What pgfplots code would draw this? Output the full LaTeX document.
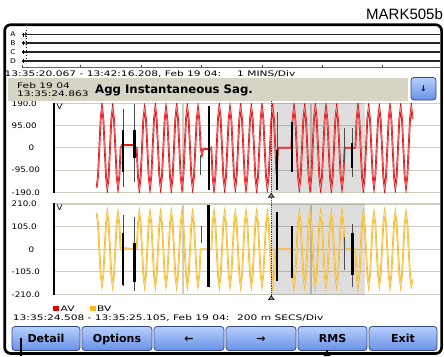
\documentclass[border=0pt]{standalone}
\usepackage{fontspec}
\setmainfont{DejaVu Sans}
\newfontfamily\pxw[FakeStretch=1.4]{DejaVu Sans}
\newfontfamily\pxn[FakeStretch=1.15]{DejaVu Sans}
\newfontfamily\arialf{Liberation Sans}
\usepackage{pgfplots}
\usepackage{pgfplotstable}
\pgfplotsset{compat=1.18}

\definecolor{wavea}{RGB}{226,0,0}
\definecolor{waveacore}{RGB}{255,150,150}
\definecolor{waveb}{RGB}{250,180,30}
\definecolor{wavebcore}{RGB}{255,226,150}
\definecolor{gridc}{RGB}{206,206,192}
\definecolor{barc}{RGB}{214,212,196}
\definecolor{btntop}{RGB}{182,208,252}
\definecolor{btnbot}{RGB}{104,144,232}
\definecolor{btnedge}{RGB}{52,72,130}

\newcommand{\pxs}{\pxw\fontsize{7.6}{9}\selectfont}
\newcommand{\pxt}{\pxn\fontsize{7.6}{9}\selectfont}
\newcommand{\btnf}{\fontsize{11}{11}\selectfont\bfseries}

% AV samples (8 per 60 Hz cycle), V
\pgfplotstableread[row sep=\\]{
n v\\
32 -170\\33 -121\\34 0\\35 122\\36 176\\37 124\\38 0\\39 -122\\40 -174\\41 -123\\
42 0\\43 121\\44 170\\45 120\\46 0\\47 -120\\48 -172\\49 -122\\50 0\\51 12\\
60 12\\61 2\\62 0\\63 -124\\64 -176\\65 -124\\66 0\\67 120\\68 168\\69 120\\
70 0\\71 -122\\72 -172\\73 -121\\74 0\\75 123\\76 174\\77 123\\78 0\\79 -120\\
80 -170\\81 -120\\82 0\\83 120\\84 170\\85 121\\86 0\\87 -124\\88 -176\\89 -124\\
90 0\\91 124\\92 176\\93 123\\94 0\\95 -122\\96 -172\\97 -122\\98 0\\99 122\\
100 172\\101 121\\102 0\\103 -121\\104 -170\\105 -121\\106 0\\107 119\\108 168\\109 119\\
110 0\\111 -30\\112 -5\\117 -5\\118 0\\119 -124\\120 -176\\121 -124\\122 0\\123 124\\
124 176\\125 124\\126 0\\127 -122\\128 -172\\129 -122\\130 0\\131 121\\132 170\\133 121\\
134 0\\135 -120\\136 -170\\137 -120\\138 0\\139 123\\140 174\\141 123\\142 0\\143 -123\\
144 -174\\145 -123\\146 0\\147 122\\148 172\\149 122\\150 0\\151 -124\\152 -176\\153 -124\\
154 0\\155 124\\156 176\\157 124\\158 0\\159 -121\\160 -170\\161 -121\\162 0\\163 120\\
164 170\\165 120\\166 0\\167 -118\\168 0\\178 0\\179 124\\180 174\\181 123\\182 0\\
183 -121\\184 -170\\185 -121\\186 0\\187 120\\188 170\\189 120\\190 0\\191 -123\\192 -174\\
193 -123\\194 0\\195 124\\196 176\\197 124\\198 0\\199 -122\\200 -172\\201 -122\\202 0\\
203 122\\204 172\\205 122\\206 0\\207 -124\\208 -176\\209 -124\\210 0\\211 120\\212 170\\
213 120\\214 0\\215 -121\\216 -170\\217 -121\\218 0\\226 0\\227 124\\228 176\\229 124\\
230 0\\231 -123\\232 -174\\233 -123\\234 0\\235 122\\236 172\\237 122\\238 0\\239 -120\\
240 -170\\241 -120\\242 0\\243 120\\244 170\\245 120\\246 0\\247 -124\\248 -176\\249 -124\\
250 0\\251 124\\252 176\\253 124\\254 0\\255 -122\\256 -172\\257 -122\\258 0\\259 122\\
260 172\\261 122\\262 0\\263 -121\\264 -170\\265 -121\\266 0\\267 123\\268 174\\269 123\\
}\avdata

% BV samples, V
\pgfplotstableread[row sep=\\]{
n v\\
32 168\\33 119\\34 0\\35 -119\\36 -166\\37 -118\\38 0\\39 119\\40 170\\41 120\\
42 0\\43 -120\\44 -168\\45 -119\\46 0\\47 118\\48 166\\49 118\\50 0\\51 6\\
62 0\\63 120\\64 170\\65 120\\66 0\\67 -119\\68 -168\\69 -119\\70 0\\71 119\\
72 168\\73 119\\74 0\\75 -120\\76 -170\\77 -120\\78 0\\79 118\\80 166\\81 118\\
82 0\\83 -118\\84 -166\\85 -118\\86 0\\87 120\\88 170\\89 120\\90 0\\91 -120\\
92 -170\\93 -120\\94 0\\95 119\\96 168\\97 119\\98 0\\99 -119\\100 -168\\101 -119\\
102 0\\103 118\\104 166\\105 118\\106 0\\107 -118\\108 -166\\109 -118\\110 0\\118 0\\
119 120\\120 170\\121 120\\122 0\\123 -120\\124 -170\\125 -120\\126 0\\127 119\\128 168\\
129 119\\130 0\\131 -119\\132 -168\\133 -119\\134 0\\135 118\\136 166\\137 118\\138 0\\
139 -120\\140 -170\\141 -120\\142 0\\143 120\\144 170\\145 120\\146 0\\147 -119\\148 -168\\
149 -119\\150 0\\151 119\\152 168\\153 119\\154 0\\155 -118\\156 -166\\157 -118\\158 0\\
159 118\\160 166\\161 118\\162 0\\163 -119\\164 -168\\165 -119\\166 0\\178 0\\179 -120\\
180 -170\\181 -120\\182 0\\183 119\\184 168\\185 119\\186 0\\187 -118\\188 -166\\189 -118\\
190 0\\191 120\\192 170\\193 120\\194 0\\195 -120\\196 -170\\197 -120\\198 0\\199 119\\
200 168\\201 119\\202 0\\203 -119\\204 -168\\205 -119\\206 0\\207 118\\208 166\\209 118\\
210 0\\211 -118\\212 -166\\213 -118\\214 0\\215 120\\216 170\\217 120\\218 0\\226 0\\
227 -120\\228 -170\\229 -120\\230 0\\231 119\\232 168\\233 119\\234 0\\235 -119\\236 -168\\
237 -119\\238 0\\239 118\\240 166\\241 118\\242 0\\243 -118\\244 -166\\245 -118\\246 0\\
247 120\\248 170\\249 120\\250 0\\251 -120\\252 -170\\253 -120\\254 0\\255 119\\256 168\\
257 119\\258 0\\259 -119\\260 -168\\261 -119\\262 0\\263 118\\264 166\\265 118\\266 0\\
267 -119\\268 -168\\269 -140\\
}\bvdata

% both wave panels share the same frame: x in samples
\pgfplotsset{wave axis/.style={
    scale only axis, width=386pt,
    xmin=0, xmax=289.5,
    axis line style={draw=none}, major tick length=0pt,
    xtick={96.75,192.75}, xticklabels={},
    grid=major, major grid style={gridc, line width=1.1pt},
    yticklabel style={font=\pxt, anchor=west, inner sep=0pt, xshift=-42.5pt},
    no markers,
    /pgf/number format/assume math mode=true,
},
thinmk/.style={black!70, line width=0.9pt},
thickmk/.style={black, line width=2.2pt}}

\begin{document}
\begin{tikzpicture}

% ---- top panel: AV ----
\begin{axis}[wave axis, at={(54pt,-192.3pt)}, anchor=south west, height=89pt,
    ymin=-190, ymax=190, ytick={-190,-95,0,95,190},
    yticklabels={-190.0,-95.00,\hspace*{17pt}0,95.00,190.0}]
\addplot[draw=none, fill=black, fill opacity=0.13]
    coordinates {(162.75,-190) (233.25,-190) (233.25,190) (162.75,190)};
\addplot[wavea, line width=1.7pt] table[x=n, y=v] {\avdata};
\addplot[waveacore, line width=0.45pt] table[x=n, y=v] {\avdata};
% event markers
\addplot[thinmk] coordinates {(51.75,166) (51.75,-168)};
\addplot[thinmk] coordinates {(60.4,186) (60.4,-146)};
\addplot[thinmk] coordinates {(109.9,-31) (109.9,-116)};
\addplot[thinmk] coordinates {(167.25,153) (167.25,-180)};
\addplot[thinmk] coordinates {(217.9,85) (217.9,-65)};
\addplot[thinmk] coordinates {(223.5,85) (223.5,-125)};
\addplot[thickmk] coordinates {(51.75,76) (51.75,-103)};
\addplot[thickmk] coordinates {(60.4,76) (60.4,-44)};
\addplot[thickmk] coordinates {(116.25,179) (116.25,-180)};
\addplot[thickmk] coordinates {(167.25,-9) (167.25,-180)};
\addplot[thickmk] coordinates {(178.5,110) (178.5,-103)};
\addplot[thickmk] coordinates {(223.5,20) (223.5,-86)};
\end{axis}

% ---- bottom panel: BV ----
\begin{axis}[wave axis, at={(54pt,-294.5pt)}, anchor=south west, height=90.5pt,
    ymin=-210, ymax=210, ytick={-210,-105,0,105,210},
    yticklabels={-210.0,-105.0,\hspace*{17pt}0,105.0,210.0}]
\addplot[draw=none, fill=black, fill opacity=0.13]
    coordinates {(162.75,-210) (233.25,-210) (233.25,210) (162.75,210)};
\addplot[waveb, line width=1.7pt] table[x=n, y=v] {\bvdata};
\addplot[wavebcore, line width=0.45pt] table[x=n, y=v] {\bvdata};
\addplot[thinmk] coordinates {(51.75,160) (51.75,-169)};
\addplot[thinmk] coordinates {(60.4,152) (60.4,-196)};
\addplot[thinmk] coordinates {(110.25,109) (110.25,30)};
\addplot[thinmk] coordinates {(217.5,59) (217.5,-95)};
\addplot[thinmk] coordinates {(223.9,118) (223.9,-173)};
\addplot[thickmk] coordinates {(51.75,77) (51.75,-165)};
\addplot[thickmk] coordinates {(60.4,30) (60.4,-151)};
\addplot[thickmk] coordinates {(115.9,206) (115.9,-174)};
\addplot[thickmk] coordinates {(167.25,175) (167.25,-149)};
\addplot[thickmk] coordinates {(178.5,106) (178.5,-134)};
\addplot[thickmk] coordinates {(223.9,77) (223.9,-118)};
\end{axis}

% ---- instrument screen furniture, in screen pixels (y downwards) ----
\begin{scope}[x=1pt,y=-1pt]
\node[anchor=base west, inner sep=0pt, font=\arialf\fontsize{15}{15}\selectfont] at (366,19) {MARK505b};
\draw[line width=2.7pt, rounded corners=6pt] (4.7,24.7) rectangle (441.6,353.5);

% channel overview strip
\foreach \yy/\ll in {34.5/A,43/B,52/C,61/D}{
  \draw[line width=1.1pt, black!85] (22,\yy) -- (440,\yy);
  \draw[line width=0.7pt] (23.5,\yy-2) -- (23.5,\yy+2);
  \node[font=\pxn\fontsize{6.5}{6.5}\selectfont, inner sep=0pt] at (13,\yy) {\ll};
}
\draw[wavea, line width=1.6pt] (25.5,31.5) -- (25.5,37);
\draw[waveb, line width=1.6pt] (25.5,40) -- (25.5,45.5);
\draw[dotted, line width=0.8pt] (26.8,30) -- (26.8,63);
\draw[black!60, line width=0.6pt] (22,67.5) -- (440,67.5);
\foreach \xx in {22,80,141,201,262,322,382}{\draw[black!70, line width=0.8pt] (\xx,64.5) -- (\xx,67.5);}
\node[anchor=base west, inner sep=0pt, font=\pxs] at (4.5,76) {13:35:20.067 - 13:42:16.208, Feb 19 04:};
\node[anchor=base west, inner sep=0pt, font=\pxs] at (237,76) {1 MINS/Div};

% header bar
\fill[barc] (8,78) rectangle (408,101);
\node[anchor=base west, inner sep=0pt, font=\pxs] at (17,88) {Feb 19 04};
\node[anchor=base west, inner sep=0pt, font=\pxs] at (17,96) {13:35:24.863};
\node[anchor=base west, inner sep=0pt, font=\fontsize{11.7}{12}\selectfont\bfseries] at (95,93) {Agg Instantaneous Sag.};
\shade[top color=btntop, bottom color=btnbot, draw=btnedge, line width=0.8pt, rounded corners=3pt] (411,77.5) rectangle (436,100);
\node[font=\fontsize{8}{8}\selectfont\bfseries, inner sep=0pt] at (423.5,89) {↓};

% axis lines and unit labels
\draw[line width=2pt] (54,103) -- (54,193.3);
\draw[line width=2pt] (54,203) -- (54,295.3);
\node[anchor=north west, inner sep=0pt, font=\pxt] at (56.5,103.5) {V};
\node[anchor=north west, inner sep=0pt, font=\pxt] at (56.5,204.5) {V};

% cursor
\draw[black!75, line width=0.9pt, dash pattern=on 0.9pt off 0.9pt] (271.3,101) -- (271.3,297);
\filldraw[fill=black!45, draw=black, line width=0.6pt] (268.6,197.2) -- (274,197.2) -- (271.3,193.4) -- cycle;
\filldraw[fill=black!45, draw=black, line width=0.6pt] (268.6,299.6) -- (274,299.6) -- (271.3,295.8) -- cycle;

% legend
\fill[wavea] (53.3,305.8) rectangle (58.8,310.8);
\node[anchor=base west, inner sep=0pt, font=\pxs] at (60.5,311) {AV};
\fill[waveb] (90,305.8) rectangle (95.5,310.8);
\node[anchor=base west, inner sep=0pt, font=\pxs] at (97,311) {BV};
\node[anchor=base west, inner sep=0pt, font=\pxs] at (12.7,320.7) {13:35:24.508 - 13:35:25.105, Feb 19 04:};
\node[anchor=base west, inner sep=0pt, font=\pxs] at (237,320.7) {200 m SECS/Div};

% soft keys
\foreach \xa/\xb/\tt in {12/80/Detail, 82/152/Options, 154/224/←, 226/296/→, 298/367/RMS, 369/437/Exit}{
  \shade[top color=btntop, bottom color=btnbot, draw=btnedge, line width=0.8pt, rounded corners=3pt]
    (\xa,326.5) rectangle (\xb,350.5);
  \node[anchor=base, inner sep=0pt, font=\btnf] at ({(\xa+\xb)/2},342.8) {\tt};
}
\draw[line width=1.3pt] (21,338) -- (21,356);
\fill (323.5,356) -- (330.5,356) -- (327,349.5) -- cycle;

\pgfresetboundingbox
\path[use as bounding box] (0,0) rectangle (444,356);
\end{scope}
\end{tikzpicture}
\end{document}
